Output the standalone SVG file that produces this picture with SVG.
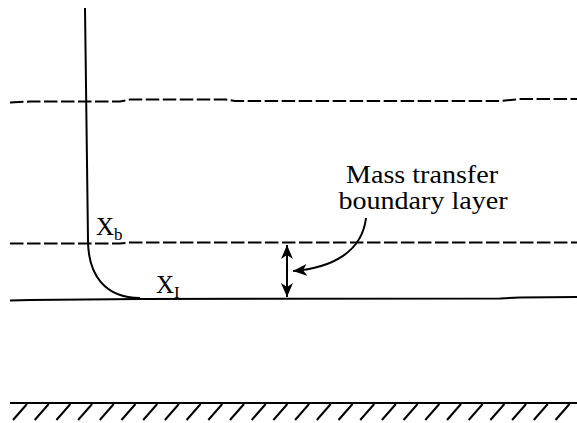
<svg xmlns="http://www.w3.org/2000/svg" width="577" height="423" viewBox="0 0 577 423">
<style>
.ln{fill:none;stroke:#000;stroke-width:2}
.dash{fill:none;stroke:#000;stroke-width:2;stroke-dasharray:13.5 3.5}
.hatch{stroke:#000;stroke-width:2}
.s{font-size:17px}
</style>
<defs>
<marker id="ah" viewBox="0 0 14 12" refX="14" refY="6" markerWidth="14" markerHeight="12" markerUnits="userSpaceOnUse" orient="auto-start-reverse">
<path d="M0,0 L14,6 L0,12 L4,6 Z" fill="#000"/>
</marker>
</defs>
<g id="top-boundary">
<path class="dash" d="M10,102.5 L30,101.5 L120,101.5 L130,99.5 L225,99.5 L235,101 L500,101 L520,99 L577,99"/>
</g>
<g id="mass-transfer-boundary">
<path class="dash" d="M10,243.5 L120,243.5 L130,242.5 L577,242.5"/>
</g>
<g id="interface">
<path class="ln" d="M10,300.5 L30,300 L140,299 L500,298.5 L520,297.5 L577,297"/>
</g>
<g id="concentration-profile">
<path class="ln" d="M85,8 L88,240 C88,275 105,298 140,298"/>
</g>
<g id="wall">
<line class="ln" x1="10" y1="403" x2="577" y2="403"/>
<g class="hatch">
<line x1="27" y1="404" x2="13" y2="420"/><line x1="48.7" y1="404" x2="34.7" y2="420"/><line x1="70.4" y1="404" x2="56.4" y2="420"/><line x1="92.1" y1="404" x2="78.1" y2="420"/><line x1="113.8" y1="404" x2="99.8" y2="420"/><line x1="135.5" y1="404" x2="121.5" y2="420"/><line x1="157.2" y1="404" x2="143.2" y2="420"/><line x1="178.9" y1="404" x2="164.9" y2="420"/><line x1="200.6" y1="404" x2="186.6" y2="420"/><line x1="222.3" y1="404" x2="208.3" y2="420"/><line x1="244" y1="404" x2="230" y2="420"/><line x1="265.7" y1="404" x2="251.7" y2="420"/><line x1="287.4" y1="404" x2="273.4" y2="420"/><line x1="309.1" y1="404" x2="295.1" y2="420"/><line x1="330.8" y1="404" x2="316.8" y2="420"/><line x1="352.5" y1="404" x2="338.5" y2="420"/><line x1="374.2" y1="404" x2="360.2" y2="420"/><line x1="395.9" y1="404" x2="381.9" y2="420"/><line x1="417.6" y1="404" x2="403.6" y2="420"/><line x1="439.3" y1="404" x2="425.3" y2="420"/><line x1="461" y1="404" x2="447" y2="420"/><line x1="482.7" y1="404" x2="468.7" y2="420"/><line x1="504.4" y1="404" x2="490.4" y2="420"/><line x1="526.1" y1="404" x2="512.1" y2="420"/><line x1="547.8" y1="404" x2="533.8" y2="420"/><line x1="569.5" y1="404" x2="555.5" y2="420"/>
</g>
</g>
<g id="connectors">
<line class="ln" x1="287" y1="245" x2="287" y2="297" marker-start="url(#ah)" marker-end="url(#ah)"/>
<path class="ln" d="M366,218 C362,252 332,268 293,271" marker-end="url(#ah)"/>
</g>
<g id="label-xb">
<text x="96" y="235" font-family="Liberation Serif" font-size="25">X<tspan class="s" dy="5">b</tspan></text>
</g>
<g id="label-xi">
<text x="156" y="293" font-family="Liberation Serif" font-size="25">X<tspan class="s" dy="5">I</tspan></text>
</g>
<g id="label-mtbl">
<text x="422" y="183" text-anchor="middle" font-family="Liberation Serif" font-size="25" textLength="152" lengthAdjust="spacingAndGlyphs">Mass transfer</text>
<text x="423" y="209" text-anchor="middle" font-family="Liberation Serif" font-size="25" textLength="169" lengthAdjust="spacingAndGlyphs">boundary layer</text>
</g>
</svg>
